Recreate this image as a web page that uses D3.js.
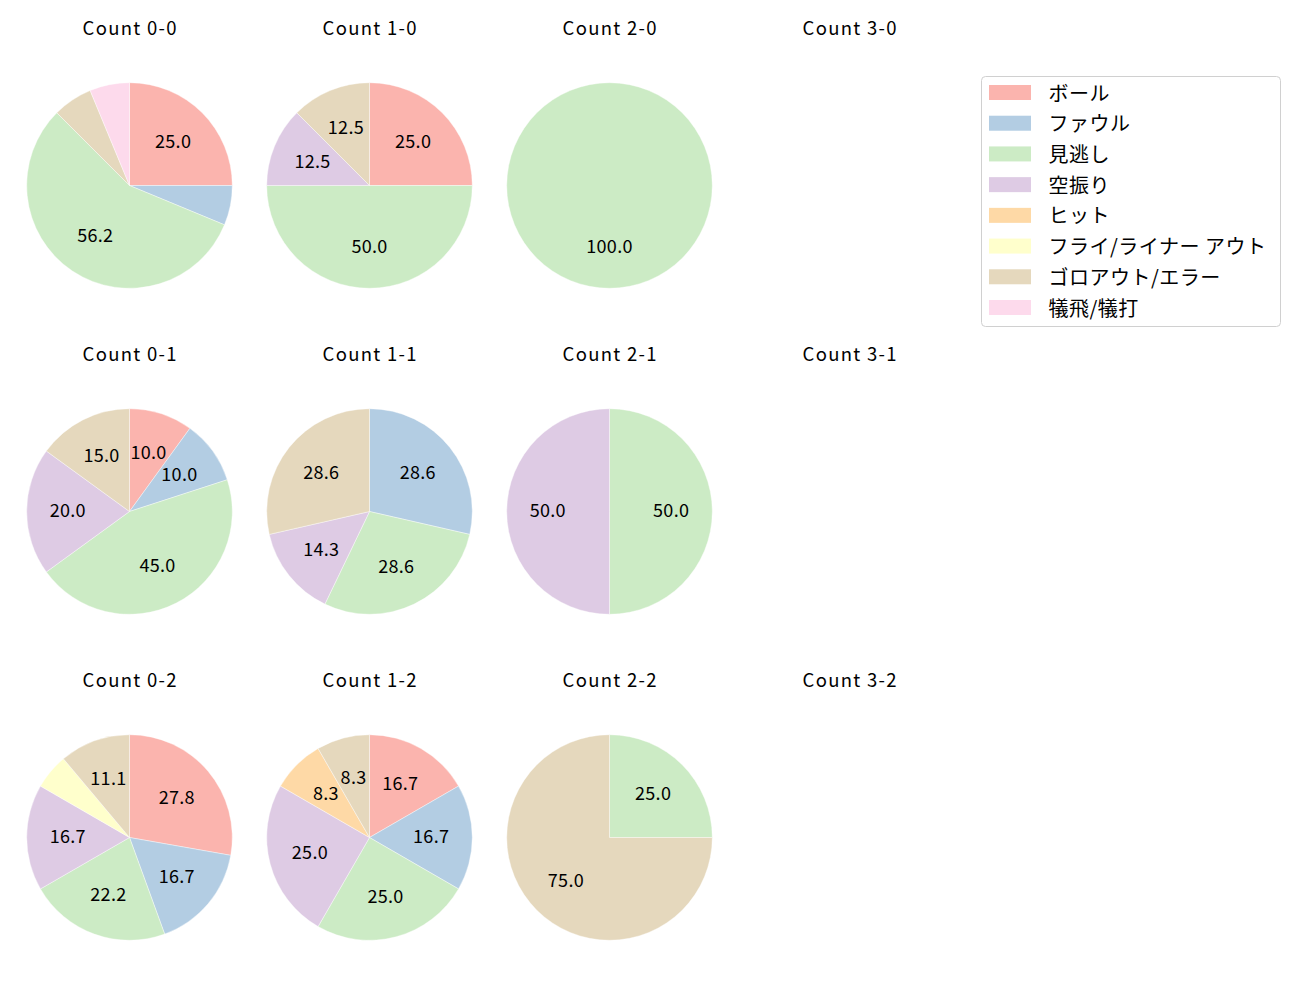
<!DOCTYPE html>
<html><head><meta charset="utf-8">
<script src="https://cdn.jsdelivr.net/npm/d3@7"></script>
<style>body{margin:0;background:#fff}svg{display:block}text{font-family:"Noto Sans CJK JP","Noto Sans",sans-serif}</style>
</head><body><svg id="c" width="1300" height="1000"></svg>
<script>
const categories = ["ボール","ファウル","見逃し","空振り","ヒット","フライ/ライナー アウト","ゴロアウト/エラー","犠飛/犠打"];
const colors = ["#fbb4ae","#b3cde3","#ccebc5","#decbe4","#fed9a6","#ffffcc","#e5d8bd","#fddaec"];
const balls = [0,1,2,3];
const strikes = [0,1,2];
// pitch counts per category, keyed "balls-strikes"
const v00 = [4,1,9,0,0,0,1,1];
const v10 = [2,0,4,1,0,0,1,0];
const v20 = [0,0,1,0,0,0,0,0];
const v01 = [2,2,9,4,0,0,3,0];
const v11 = [0,2,2,1,0,0,2,0];
const v21 = [0,0,1,1,0,0,0,0];
const v02 = [5,3,4,3,0,1,2,0];
const v12 = [2,2,3,3,1,0,1,0];
const v22 = [0,0,1,0,0,0,3,0];
const data = {"0-0":v00,"1-0":v10,"2-0":v20,"0-1":v01,"1-1":v11,"2-1":v21,"0-2":v02,"1-2":v12,"2-2":v22};

// Python-style "%.1f" (round half to even)
function fmt(v,total){
  const s = v*1000/total; let r = Math.floor(s); const f = s-r;
  if (Math.abs(f-0.5)<1e-9) { if (r%2!==0) r+=1; } else r = Math.round(s);
  return (r/10).toFixed(1);
}

const svg = d3.select("#c");
const cx = d3.scalePoint().domain(balls).range([129.5,849.5]);
const cy = d3.scalePoint().domain(strikes).range([185.5,837.5]);
const R = 102.8;
const pie = d3.pie().sort(null).value(d=>d.v);
const arc = d3.arc().innerRadius(0).outerRadius(R);
const lab = d3.arc().innerRadius(R*0.6).outerRadius(R*0.6);

strikes.forEach(s=>{
  balls.forEach(b=>{
    const key = b+"-"+s;
    const g = svg.append("g").attr("transform",`translate(${cx(b)},${cy(s)})`);
    g.append("text").attr("x",0.7).attr("y",-185.5+26.8).attr("text-anchor","middle")
      .attr("dominant-baseline","central").attr("font-size",18.5).attr("letter-spacing",1.3)
      .attr("fill","#000").text("Count "+key);
    const vals = data[key];
    if(!vals) return;
    const total = d3.sum(vals);
    const arcs = pie(vals.map((v,i)=>({v,i})));
    g.selectAll("path").data(arcs.filter(a=>a.data.v>0)).join("path")
      .attr("d",arc).attr("fill",d=>colors[d.data.i]).attr("stroke","#fff").attr("stroke-width",0.4);
    g.selectAll("text.l").data(arcs.filter(a=>a.data.v/total*100>=7)).join("text").attr("class","l")
      .attr("x",d=>lab.centroid(d)[0]).attr("y",d=>lab.centroid(d)[1]-2.3)
      .attr("text-anchor","middle").attr("dominant-baseline","central").attr("font-size",18)
      .attr("letter-spacing",0.3).attr("fill","#000")
      .text(d=>fmt(d.data.v,total));
  });
});

// legend
const lg = svg.append("g");
lg.append("rect").attr("x",981.5).attr("y",76.5).attr("width",299).attr("height",250).attr("rx",4)
  .attr("fill","#fff").attr("stroke","#d0d0d0").attr("stroke-width",1);
const ly = d3.scalePoint().domain(categories).range([92.5,307.5]);
categories.forEach((c,i)=>{
  lg.append("rect").attr("x",989).attr("y",ly(c)-7.5).attr("width",42).attr("height",15).attr("fill",colors[i]);
  lg.append("text").attr("x",1048.5).attr("y",ly(c)-0.5).attr("dominant-baseline","central")
    .attr("font-size",20).attr("letter-spacing",0.5).attr("fill","#000").text(c);
});
</script></body></html>
